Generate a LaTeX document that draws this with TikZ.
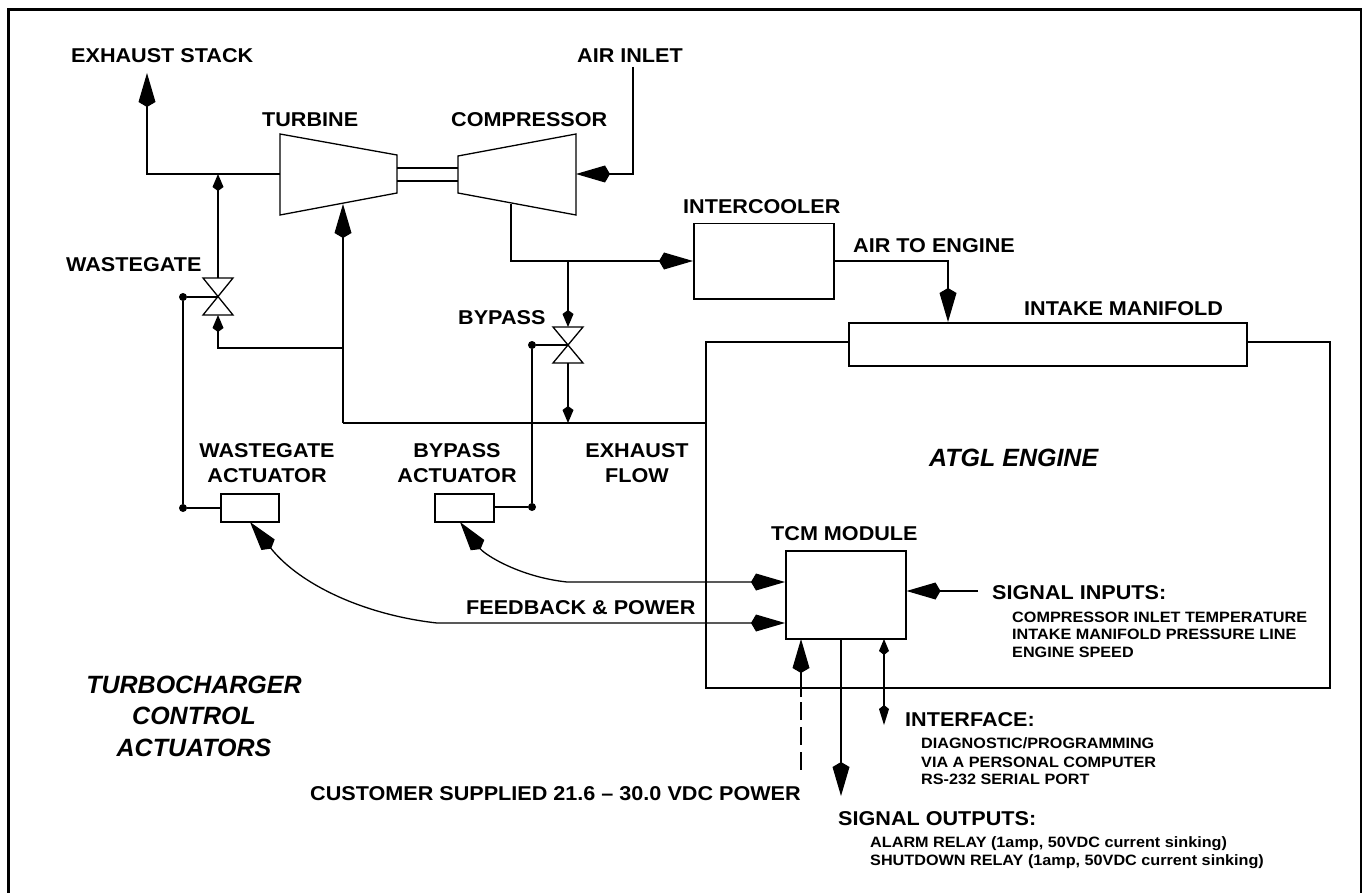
\documentclass[tikz,border=0pt]{standalone}
\usepackage{fontspec}
\setmainfont[FakeStretch=1.08]{Liberation Sans}
\newfontfamily\titlefont{Liberation Sans}
\usetikzlibrary{arrows.meta,calc}
\tikzset{
  line/.style={draw=black,line width=1.3pt},
  kbig/.tip={Kite[length=34pt,width=17pt,inset=5pt]},
  ksmall/.tip={Kite[length=17pt,width=11pt,inset=4pt]},
  big/.style={line,-kbig},
  small/.style={line,-ksmall},
  box/.style={draw=black,line width=1.5pt,fill=white,rectangle,inner sep=0pt,anchor=north west},
  lab/.style={inner sep=0pt,anchor=base west,font=\fontsize{20}{22}\selectfont\bfseries},
  sub/.style={inner sep=0pt,anchor=base west,font=\fontsize{15}{17}\selectfont\bfseries},
  clab/.style={inner sep=0pt,anchor=base,font=\fontsize{20}{22}\selectfont\bfseries},
  title/.style={inner sep=0pt,anchor=base,font=\fontsize{25}{31}\selectfont\titlefont\bfseries\itshape},
  junction/.style={circle,fill=black,inner sep=0pt,minimum size=8pt},
  valveshape/.style={draw=black,line width=1.3pt,fill=white}
}
\begin{document}
\begin{tikzpicture}[x=1pt,y=-1pt]
\useasboundingbox (0,0) rectangle (1367,893);
\fill[white] (0,0) rectangle (1367,893);
% frame
\draw[line width=2.6pt] (8.5,893) -- (8.5,9.5) -- (1361,9.5) -- (1361,893);
% engine outline
\coordinate (engTL) at (706,342);
\coordinate (engTR) at (1330,342);
\coordinate (engBR) at (1330,688);
\coordinate (engBL) at (706,688);
\draw[line width=1.8pt] (engTL) -- (engTR) -- (engBR) -- (engBL) -- cycle;
% boxes
\node[box,minimum width=398pt,minimum height=43pt] (manifold) at (848,322) {};
\node[box,minimum width=140pt,minimum height=75pt] (cooler) at (693,223) {};
\node[box,minimum width=120pt,minimum height=88pt] (tcm) at (785,550) {};
\node[box,minimum width=58pt,minimum height=28pt] (wact) at (220,493) {};
\node[box,minimum width=59pt,minimum height=28pt] (bact) at (434,493) {};
% turbine and compressor
\coordinate (tTL) at (280,134); \coordinate (tTR) at (397,155);
\coordinate (tBR) at (397,193); \coordinate (tBL) at (280,215);
\coordinate (cTL) at (458,156); \coordinate (cTR) at (576,134);
\coordinate (cBR) at (576,215); \coordinate (cBL) at (458,193);
\draw[line,line join=miter] (tTL) -- (tTR) -- (tBR) -- (tBL) -- cycle;
\draw[line,line join=miter] (cTL) -- (cTR) -- (cBR) -- (cBL) -- cycle;
\coordinate (s1a) at (397,168); \coordinate (s1b) at (458,168);
\coordinate (s2a) at (397,181); \coordinate (s2b) at (458,181);
\draw[line] (s1a) -- (s1b);
\draw[line] (s2a) -- (s2b);
% valves
\coordinate (wv) at (218,297);
\coordinate (bv) at (568,345);
\draw[valveshape] (203,278) -- (233,278) -- (203,315) -- (233,315) -- cycle;
\draw[valveshape] (553,327) -- (583,327) -- (553,363) -- (583,363) -- cycle;
% exhaust stack
\coordinate (stackTip) at (147,73);
\coordinate (stackCorner) at (147,174);
\coordinate (wgJoin) at (218,174);
\draw[big] (tTL |- stackCorner) -- (stackCorner) -- (stackTip);
% air inlet
\coordinate (airTop) at (633,67);
\coordinate (airCorner) at (633,174);
\draw[big] (airTop) -- (airCorner) -- (cBR |- airCorner);
% wastegate valve top
\coordinate (wvTop) at (218,278);
\coordinate (wvBot) at (218,315);
\draw[small] (wvTop) -- (wgJoin);
% exhaust manifold lines
\coordinate (exT) at (343,204);
\coordinate (exJ) at (343,348);
\coordinate (exB) at (343,423);
\coordinate (exE) at (706,423);
\draw[big] (exB) -- (exT);
\draw[small] (exJ) -- (218,348) -- (wvBot);
\draw[line] (exB) -- (exE);
% compressor output
\coordinate (cOut) at (511,204);
\coordinate (cCorner) at (511,261);
\coordinate (bpJoin) at (568,261);
\draw[big] (cOut) -- (cCorner) -- (cooler.west |- cCorner);
\coordinate (bvTop) at (568,327);
\coordinate (bvBot) at (568,363);
\coordinate (bpEnd) at (568,423);
\draw[small] (bpJoin) -- (bvTop);
\draw[small] (bvBot) -- (bpEnd);
% air to engine
\coordinate (aeS) at (833,261);
\coordinate (aeC) at (948,261);
\coordinate (aeE) at (948,322);
\draw[big] (aeS) -- (aeC) -- (aeE);
% wastegate control
\node[junction] (wd1) at (183,297) {};
\node[junction] (wd2) at (183,508) {};
\draw[line] (wv) -- (wd1) -- (wd2) -- (wd2 -| wact.west);
% bypass control
\node[junction] (bd1) at (532,345) {};
\node[junction] (bd2) at (532,507) {};
\draw[line] (bv) -- (bd1) -- (bd2) -- (bd2 -| bact.east);
% curves
\coordinate (bactTip) at (460,522);
\coordinate (wactTip) at (250,522);
\coordinate (tcmA) at (785,582);
\coordinate (tcmB) at (785,623);
\draw[line,kbig-kbig] (tcmA) -- (567,582) .. controls (520,577) and (485,555) .. (bactTip);
\draw[line,kbig-kbig] (tcmB) -- (437,623) .. controls (365,615) and (300,585) .. (wactTip);
% signal inputs
\coordinate (siS) at (978,591);
\draw[big] (siS) -- (siS -| tcm.east);
% power
\coordinate (pwS) at (801,697);
\coordinate (pwT) at (801,639);
\coordinate (pwD0) at (801,702);
\coordinate (pwD) at (801,770);
\draw[big] (pwS) -- (pwT);
\draw[line,dash pattern=on 18pt off 7pt] (pwD0) -- (pwD);
% outputs
\coordinate (soS) at (841,638);
\coordinate (soT) at (841,796);
\draw[big] (soS) -- (soT);
% interface
\coordinate (ifT) at (884,639);
\coordinate (ifB) at (884,725);
\draw[line,{Kite[length=16pt,width=10pt,inset=4pt]}-{Kite[length=20pt,width=10pt,inset=4pt]}] (ifT) -- (ifB);
% labels
\node[lab] (l1) at (71,63) {EXHAUST STACK};
\node[lab] (l2) at (577,63) {AIR INLET};
\node[lab] (l3) at (262,127) {TURBINE};
\node[lab] (l4) at (451,127) {COMPRESSOR};
\node[lab] (l5) at (66,272) {WASTEGATE};
\node[lab] (l6) at (458,324) {BYPASS};
\node[lab] (l7) at (683,214) {INTERCOOLER};
\node[lab] (l8) at (853,252) {AIR TO ENGINE};
\node[lab] (l9) at (1024,315) {INTAKE MANIFOLD};
\node[clab] (l10a) at (267,457) {WASTEGATE};
\node[clab] (l10b) at (267,482) {ACTUATOR};
\node[clab] (l11a) at (457,457) {BYPASS};
\node[clab] (l11b) at (457,482) {ACTUATOR};
\node[clab] (l12a) at (637,457) {EXHAUST};
\node[clab] (l12b) at (637,482) {FLOW};
\node[title,anchor=base west] (l13) at (929,466) {ATGL ENGINE};
\node[lab] (l14) at (771,540) {TCM MODULE};
\node[lab] (l15) at (466,614) {FEEDBACK \& POWER};
\node[lab] (l16) at (992,599) {SIGNAL INPUTS:};
\node[sub] (l17) at (1012,622) {COMPRESSOR INLET TEMPERATURE};
\node[sub] (l18) at (1012,639) {INTAKE MANIFOLD PRESSURE LINE};
\node[sub] (l19) at (1012,657) {ENGINE SPEED};
\node[lab] (l20) at (905,726) {INTERFACE:};
\node[sub] (l21) at (921,748) {DIAGNOSTIC/PROGRAMMING};
\node[sub] (l22) at (921,767) {VIA A PERSONAL COMPUTER};
\node[sub] (l23) at (921,784) {RS-232 SERIAL PORT};
\node[lab] (l24) at (310,800) {CUSTOMER SUPPLIED 21.6 -- 30.0 VDC POWER};
\node[lab] (l25) at (838,825) {SIGNAL OUTPUTS:};
\node[sub] (l26) at (870,847) {ALARM RELAY (1amp, 50VDC current sinking)};
\node[sub] (l27) at (870,865) {SHUTDOWN RELAY (1amp, 50VDC current sinking)};
\node[title] (l28) at (194,693) {TURBOCHARGER};
\node[title] (l29) at (194,724) {CONTROL};
\node[title] (l30) at (194,756) {ACTUATORS};
\end{tikzpicture}
\end{document}
